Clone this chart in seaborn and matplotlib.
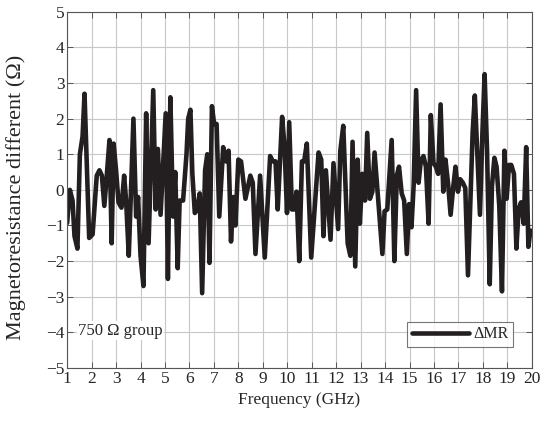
import numpy as np
import pandas as pd
import matplotlib
matplotlib.use("Agg")
import matplotlib.pyplot as plt
import seaborn as sns

# Frequency sweep (GHz) and magnetoresistance difference (Ohm)
freq_ghz = [
    1.00, 1.11, 1.22, 1.30, 1.42, 1.52, 1.63, 1.71, 1.77, 1.90,
    2.04, 2.21, 2.32, 2.42, 2.52, 2.62, 2.73, 2.82, 2.90, 3.00,
    3.10, 3.22, 3.33, 3.41, 3.52, 3.71, 3.82, 3.90, 4.00, 4.12,
    4.23, 4.33, 4.52, 4.62, 4.71, 4.82, 5.03, 5.12, 5.22, 5.33,
    5.42, 5.52, 5.60, 5.74, 5.88, 5.95, 6.04, 6.12, 6.22, 6.32,
    6.42, 6.52, 6.64, 6.73, 6.82, 6.92, 7.01, 7.11, 7.22, 7.38,
    7.49, 7.60, 7.70, 7.80, 7.88, 8.00, 8.11, 8.29, 8.49, 8.59,
    8.70, 8.89, 9.08, 9.30, 9.41, 9.52, 9.61, 9.79, 9.89, 9.99,
    10.08, 10.19, 10.28, 10.38, 10.49, 10.60, 10.69, 10.80, 10.98, 11.28,
    11.39, 11.48, 11.58, 11.77, 11.89, 12.08, 12.17, 12.29, 12.47, 12.58,
    12.67, 12.78, 12.88, 12.97, 13.07, 13.18, 13.27, 13.38, 13.48, 13.57,
    13.89, 13.98, 14.09, 14.27, 14.38, 14.48, 14.57, 14.68, 14.78, 14.89,
    14.98, 15.08, 15.17, 15.27, 15.37, 15.46, 15.57, 15.67, 15.78, 15.87,
    15.98, 16.08, 16.17, 16.27, 16.38, 16.47, 16.58, 16.68, 16.79, 16.88,
    16.98, 17.07, 17.18, 17.28, 17.39, 17.58, 17.67, 17.88, 17.98, 18.07,
    18.17, 18.28, 18.37, 18.47, 18.56, 18.67, 18.78, 18.88, 18.97, 19.07,
    19.16, 19.27, 19.37, 19.46, 19.56, 19.67, 19.77, 19.86, 19.94, 20.00,
]
delta_mr = [
    -0.93, 0.00, -0.30, -1.30, -1.65, 1.00, 1.50, 2.70, 1.40, -1.35,
    -1.25, 0.40, 0.55, 0.40, -0.45, 0.40, 1.40, -1.50, 1.30, 0.55,
    -0.35, -0.50, 0.40, -0.30, -1.85, 2.00, -0.75, -0.20, -1.85, -2.70,
    2.15, -1.50, 2.80, -0.55, 1.15, -0.70, 2.15, -2.50, 2.60, -0.75,
    0.50, -2.20, -0.30, -0.30, 1.00, 2.00, 2.25, 0.45, -0.65, -0.55,
    -0.10, -2.90, 0.55, 1.00, -2.05, 2.35, 1.85, 1.85, -0.75, 1.20,
    0.80, 1.10, -1.45, -0.20, -1.00, 0.85, 0.80, -0.25, 0.40, 0.20,
    -1.80, 0.40, -1.90, 0.95, 0.80, 0.80, -0.55, 2.05, 1.20, -0.65,
    1.90, -0.55, -0.55, -0.05, -2.00, 0.80, 0.80, 1.30, -1.90, 1.05,
    0.85, -1.30, 0.55, -1.40, 0.75, -1.10, 1.10, 1.80, -1.50, -1.85,
    1.35, -2.15, 0.85, -0.95, 0.45, -0.30, 1.60, -0.25, -0.05, 1.05,
    -1.80, -0.60, -0.55, 1.40, -2.00, 0.40, 0.65, -0.10, -0.30, -1.80,
    -0.40, -1.05, 0.15, 2.80, 0.20, 0.80, 0.95, 0.65, -0.95, 2.10,
    0.75, 0.65, 0.45, 2.40, -0.05, 0.85, 0.15, -0.70, 0.10, 0.65,
    -0.05, 0.30, 0.20, 0.05, -2.40, 1.60, 2.65, -0.70, 1.60, 3.25,
    1.10, -2.65, 0.10, 0.90, 0.65, -0.45, -2.85, 1.10, -0.25, 0.70,
    0.70, 0.45, -1.65, -0.55, -0.35, -0.95, 1.20, -1.60, -1.15, -1.15,
]

x_ticks = list(range(1, 21))
y_ticks = list(range(-5, 6))

df = pd.DataFrame({"Frequency": freq_ghz, "dMR": delta_mr})

sns.set_style("ticks")
plt.rcParams["font.family"] = ["Liberation Serif", "DejaVu Serif"]

fig = plt.figure(figsize=(5.46, 4.21), dpi=100)
ax = fig.add_axes([0.123, 0.126, 0.851, 0.846])

sns.lineplot(data=df, x="Frequency", y="dMR", ax=ax, color="#231f20",
             linewidth=3.3, label="ΔMR", sort=False, estimator=None)
for ln in ax.lines:
    ln.set_solid_joinstyle("round")

ax.set_xlim(1, 20)
ax.set_ylim(-5, 5)
ax.set_xticks(x_ticks)
ax.set_yticks(y_ticks)
ax.grid(True, color="#c8c8c8", linewidth=0.8)
ax.set_axisbelow(True)
for side in ["top", "right", "bottom", "left"]:
    ax.spines[side].set_visible(True)
    ax.spines[side].set_color("#555555")
    ax.spines[side].set_linewidth(0.8)
ax.tick_params(direction="in", top=True, right=True, length=4,
               width=0.7, color="#555555", labelsize=12.5, pad=2)

ax.set_xlabel("Frequency (GHz)", fontsize=12.5)
ax.set_ylabel("Magnetoresistance different (Ω)", fontsize=16)
ax.yaxis.set_label_coords(-0.088, 0.48)

ax.text(1.45, -3.95, "750 Ω group", fontsize=12, va="center", ha="left",
        bbox=dict(facecolor="white", edgecolor="none", pad=1.0))

leg = ax.legend(loc="lower right", bbox_to_anchor=(0.97, 0.045),
                fontsize=11.5, frameon=True, fancybox=False,
                handlelength=3.6, borderpad=0.3, handletextpad=0.25,
                borderaxespad=0.3)
leg.get_frame().set_edgecolor("#555555")
leg.get_frame().set_linewidth(0.8)

fig.savefig("out.png", dpi=100)
